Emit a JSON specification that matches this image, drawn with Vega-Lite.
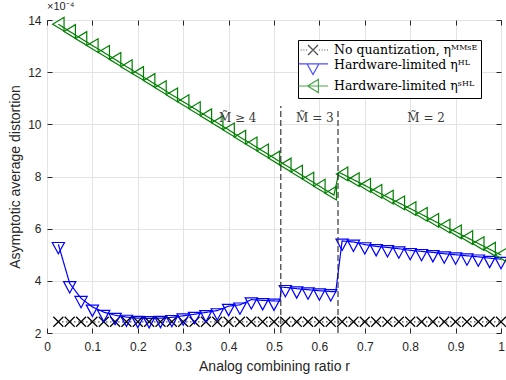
{
  "$schema": "https://vega.github.io/schema/vega-lite/v6.json",
  "width": 454,
  "height": 313,
  "autosize": {"type": "none"},
  "padding": {"left": 47, "top": 20, "right": 5, "bottom": 47},
  "background": "white",
  "config": {
    "view": {"stroke": "#262626", "strokeWidth": 1},
    "axis": {
      "labelFont": "Liberation Sans",
      "labelFontSize": 12,
      "labelColor": "#262626",
      "titleFont": "Liberation Sans",
      "titleFontSize": 14,
      "titleFontWeight": "normal",
      "titleColor": "#262626",
      "tickColor": "#262626",
      "tickSize": -5,
      "tickWidth": 1,
      "domain": false,
      "gridColor": "#e3e3e3",
      "gridWidth": 1,
      "labelFlush": false,
      "labelOverlap": false
    }
  },
  "title": {
    "text": "×10⁻⁴",
    "anchor": "start",
    "frame": "group",
    "font": "Liberation Sans",
    "fontSize": 11,
    "fontWeight": "normal",
    "color": "#262626",
    "offset": 2
  },
  "datasets": {
    "curves": [
      {"s": "a", "r": 0.025, "v": 2.43, "m": 1}, {"s": "a", "r": 0.05, "v": 2.43, "m": 1}, {"s": "a", "r": 0.075, "v": 2.43, "m": 1}, {"s": "a", "r": 0.1, "v": 2.43, "m": 1},
      {"s": "a", "r": 0.125, "v": 2.43, "m": 1}, {"s": "a", "r": 0.15, "v": 2.43, "m": 1}, {"s": "a", "r": 0.175, "v": 2.43, "m": 1}, {"s": "a", "r": 0.2, "v": 2.43, "m": 1},
      {"s": "a", "r": 0.225, "v": 2.43, "m": 1}, {"s": "a", "r": 0.25, "v": 2.43, "m": 1}, {"s": "a", "r": 0.275, "v": 2.43, "m": 1}, {"s": "a", "r": 0.3, "v": 2.43, "m": 1},
      {"s": "a", "r": 0.325, "v": 2.43, "m": 1}, {"s": "a", "r": 0.35, "v": 2.43, "m": 1}, {"s": "a", "r": 0.375, "v": 2.43, "m": 1}, {"s": "a", "r": 0.4, "v": 2.43, "m": 1},
      {"s": "a", "r": 0.425, "v": 2.43, "m": 1}, {"s": "a", "r": 0.45, "v": 2.43, "m": 1}, {"s": "a", "r": 0.475, "v": 2.43, "m": 1}, {"s": "a", "r": 0.5, "v": 2.43, "m": 1},
      {"s": "a", "r": 0.525, "v": 2.43, "m": 1}, {"s": "a", "r": 0.55, "v": 2.43, "m": 1}, {"s": "a", "r": 0.575, "v": 2.43, "m": 1}, {"s": "a", "r": 0.6, "v": 2.43, "m": 1},
      {"s": "a", "r": 0.625, "v": 2.43, "m": 1}, {"s": "a", "r": 0.65, "v": 2.43, "m": 1}, {"s": "a", "r": 0.675, "v": 2.43, "m": 1}, {"s": "a", "r": 0.7, "v": 2.43, "m": 1},
      {"s": "a", "r": 0.725, "v": 2.43, "m": 1}, {"s": "a", "r": 0.75, "v": 2.43, "m": 1}, {"s": "a", "r": 0.775, "v": 2.43, "m": 1}, {"s": "a", "r": 0.8, "v": 2.43, "m": 1},
      {"s": "a", "r": 0.825, "v": 2.43, "m": 1}, {"s": "a", "r": 0.85, "v": 2.43, "m": 1}, {"s": "a", "r": 0.875, "v": 2.43, "m": 1}, {"s": "a", "r": 0.9, "v": 2.43, "m": 1},
      {"s": "a", "r": 0.925, "v": 2.43, "m": 1}, {"s": "a", "r": 0.95, "v": 2.43, "m": 1}, {"s": "a", "r": 0.975, "v": 2.43, "m": 1}, {"s": "a", "r": 1.0, "v": 2.43, "m": 1},

      {"s": "b", "r": 0.025, "v": 5.40, "m": 1}, {"s": "b", "r": 0.05, "v": 3.90, "m": 1}, {"s": "b", "r": 0.075, "v": 3.33, "m": 1}, {"s": "b", "r": 0.1, "v": 3.00, "m": 1},
      {"s": "b", "r": 0.125, "v": 2.80, "m": 1}, {"s": "b", "r": 0.15, "v": 2.68, "m": 1}, {"s": "b", "r": 0.175, "v": 2.61, "m": 1}, {"s": "b", "r": 0.2, "v": 2.57, "m": 1},
      {"s": "b", "r": 0.225, "v": 2.56, "m": 1}, {"s": "b", "r": 0.25, "v": 2.57, "m": 1}, {"s": "b", "r": 0.275, "v": 2.60, "m": 1}, {"s": "b", "r": 0.3, "v": 2.66, "m": 1},
      {"s": "b", "r": 0.325, "v": 2.72, "m": 1}, {"s": "b", "r": 0.35, "v": 2.79, "m": 1}, {"s": "b", "r": 0.375, "v": 2.86, "m": 1}, {"s": "b", "r": 0.4, "v": 3.03, "m": 1},
      {"s": "b", "r": 0.425, "v": 3.08, "m": 1}, {"s": "b", "r": 0.45, "v": 3.28, "m": 1}, {"s": "b", "r": 0.475, "v": 3.25, "m": 1}, {"s": "b", "r": 0.5, "v": 3.23, "m": 1},
      {"s": "b", "r": 0.513, "v": 3.22, "m": 0}, {"s": "b", "r": 0.516, "v": 3.76, "m": 0},
      {"s": "b", "r": 0.525, "v": 3.75, "m": 1}, {"s": "b", "r": 0.55, "v": 3.70, "m": 1}, {"s": "b", "r": 0.575, "v": 3.66, "m": 1}, {"s": "b", "r": 0.6, "v": 3.62, "m": 1},
      {"s": "b", "r": 0.625, "v": 3.59, "m": 1}, {"s": "b", "r": 0.636, "v": 3.58, "m": 0},
      {"s": "b", "r": 0.65, "v": 5.53, "m": 1}, {"s": "b", "r": 0.675, "v": 5.49, "m": 1}, {"s": "b", "r": 0.7, "v": 5.39, "m": 1}, {"s": "b", "r": 0.725, "v": 5.32, "m": 1},
      {"s": "b", "r": 0.75, "v": 5.28, "m": 1}, {"s": "b", "r": 0.775, "v": 5.23, "m": 1}, {"s": "b", "r": 0.8, "v": 5.17, "m": 1}, {"s": "b", "r": 0.825, "v": 5.13, "m": 1},
      {"s": "b", "r": 0.85, "v": 5.09, "m": 1}, {"s": "b", "r": 0.875, "v": 5.04, "m": 1}, {"s": "b", "r": 0.9, "v": 5.00, "m": 1}, {"s": "b", "r": 0.925, "v": 4.96, "m": 1},
      {"s": "b", "r": 0.95, "v": 4.92, "m": 1}, {"s": "b", "r": 0.975, "v": 4.87, "m": 1}, {"s": "b", "r": 1.0, "v": 4.83, "m": 1},

      {"s": "c", "r": 0.025, "v": 13.84, "m": 1}, {"s": "c", "r": 0.05, "v": 13.56, "m": 1}, {"s": "c", "r": 0.075, "v": 13.29, "m": 1}, {"s": "c", "r": 0.1, "v": 13.02, "m": 1},
      {"s": "c", "r": 0.125, "v": 12.76, "m": 1}, {"s": "c", "r": 0.15, "v": 12.49, "m": 1}, {"s": "c", "r": 0.175, "v": 12.21, "m": 1}, {"s": "c", "r": 0.2, "v": 11.95, "m": 1},
      {"s": "c", "r": 0.225, "v": 11.68, "m": 1}, {"s": "c", "r": 0.25, "v": 11.41, "m": 1}, {"s": "c", "r": 0.275, "v": 11.13, "m": 1}, {"s": "c", "r": 0.3, "v": 10.87, "m": 1},
      {"s": "c", "r": 0.325, "v": 10.60, "m": 1}, {"s": "c", "r": 0.35, "v": 10.33, "m": 1}, {"s": "c", "r": 0.375, "v": 10.06, "m": 1}, {"s": "c", "r": 0.4, "v": 9.79, "m": 1},
      {"s": "c", "r": 0.425, "v": 9.51, "m": 1}, {"s": "c", "r": 0.45, "v": 9.25, "m": 1}, {"s": "c", "r": 0.475, "v": 8.98, "m": 1}, {"s": "c", "r": 0.5, "v": 8.71, "m": 1},
      {"s": "c", "r": 0.525, "v": 8.44, "m": 1}, {"s": "c", "r": 0.55, "v": 8.17, "m": 1}, {"s": "c", "r": 0.575, "v": 7.90, "m": 1}, {"s": "c", "r": 0.6, "v": 7.63, "m": 1},
      {"s": "c", "r": 0.625, "v": 7.36, "m": 1}, {"s": "c", "r": 0.632, "v": 7.29, "m": 0}, {"s": "c", "r": 0.643, "v": 8.16, "m": 0},
      {"s": "c", "r": 0.65, "v": 8.10, "m": 1}, {"s": "c", "r": 0.675, "v": 7.88, "m": 1}, {"s": "c", "r": 0.7, "v": 7.66, "m": 1}, {"s": "c", "r": 0.725, "v": 7.43, "m": 1},
      {"s": "c", "r": 0.75, "v": 7.21, "m": 1}, {"s": "c", "r": 0.775, "v": 6.99, "m": 1}, {"s": "c", "r": 0.8, "v": 6.77, "m": 1}, {"s": "c", "r": 0.825, "v": 6.55, "m": 1},
      {"s": "c", "r": 0.85, "v": 6.32, "m": 1}, {"s": "c", "r": 0.875, "v": 6.10, "m": 1}, {"s": "c", "r": 0.9, "v": 5.88, "m": 1}, {"s": "c", "r": 0.925, "v": 5.66, "m": 1},
      {"s": "c", "r": 0.95, "v": 5.43, "m": 1}, {"s": "c", "r": 0.975, "v": 5.21, "m": 1}, {"s": "c", "r": 1.0, "v": 4.99, "m": 1}
    ],
    "bounds": [
      {"r": 0.515, "lo": 2, "hi": 10.7},
      {"r": 0.641, "lo": 2, "hi": 10.6}
    ],
    "notes": [
      {"r": 0.42, "v": 10.25, "t": "M̃ ≥ 4"},
      {"r": 0.59, "v": 10.25, "t": "M̃ = 3"},
      {"r": 0.835, "v": 10.25, "t": "M̃ = 2"}
    ],
    "keys": [
      {"k": "a"}, {"k": "b"}, {"k": "c"}
    ]
  },
  "resolve": {"axis": {"x": "independent", "y": "independent"}},
  "layer": [
    {
      "data": {"name": "curves"},
      "mark": {"type": "line", "strokeWidth": 1.2},
      "encoding": {
        "x": {
          "field": "r", "type": "quantitative",
          "scale": {"domain": [0, 1], "nice": false, "zero": false},
          "axis": {
            "orient": "bottom",
            "values": [0, 0.1, 0.2, 0.3, 0.4, 0.5, 0.6, 0.7, 0.8, 0.9, 1],
            "format": "~g",
            "grid": true,
            "labelPadding": 13,
            "title": "Analog combining ratio r",
            "titlePadding": 7
          }
        },
        "y": {
          "field": "v", "type": "quantitative",
          "scale": {"domain": [2, 14], "nice": false, "zero": false},
          "axis": {
            "orient": "left",
            "values": [2, 4, 6, 8, 10, 12, 14],
            "format": "d",
            "grid": true,
            "labelPadding": 11,
            "title": "Asymptotic average distortion",
            "titlePadding": 5
          }
        },
        "color": {
          "field": "s", "type": "nominal",
          "scale": {"domain": ["a", "b", "c"], "range": ["#000000", "#0000ff", "#008000"]},
          "legend": null
        },
        "strokeDash": {
          "field": "s", "type": "nominal",
          "scale": {"domain": ["a", "b", "c"], "range": [[1, 3], [1, 0], [1, 0]]},
          "legend": null
        }
      }
    },
    {
      "data": {"name": "curves"},
      "transform": [{"filter": "datum.s === 'a' && datum.m === 1"}],
      "mark": {"type": "point", "shape": "M-1,-1L1,1M-1,1L1,-1", "size": 100, "filled": false, "stroke": "#000000", "strokeWidth": 1.2, "opacity": 1},
      "encoding": {
        "x": {"field": "r", "type": "quantitative", "axis": null},
        "y": {"field": "v", "type": "quantitative", "axis": null}
      }
    },
    {
      "data": {"name": "curves"},
      "transform": [{"filter": "datum.s === 'b' && datum.m === 1"}],
      "mark": {"type": "point", "shape": "M-1,-0.3L1,-0.3L0,1.55Z", "size": 150, "filled": false, "stroke": "#0000ff", "strokeWidth": 1.2, "opacity": 1},
      "encoding": {
        "x": {"field": "r", "type": "quantitative", "axis": null},
        "y": {"field": "v", "type": "quantitative", "axis": null}
      }
    },
    {
      "data": {"name": "curves"},
      "transform": [{"filter": "datum.s === 'c' && datum.m === 1"}],
      "mark": {"type": "point", "shape": "M-1,0L1,-1.2L1,1.2Z", "size": 130, "filled": false, "stroke": "#008000", "strokeWidth": 1.2, "opacity": 1},
      "encoding": {
        "x": {"field": "r", "type": "quantitative", "axis": null},
        "y": {"field": "v", "type": "quantitative", "axis": null}
      }
    },
    {
      "data": {"name": "bounds"},
      "mark": {"type": "rule", "stroke": "#262626", "strokeWidth": 1.1, "strokeDash": [6, 3]},
      "encoding": {
        "x": {"field": "r", "type": "quantitative", "axis": null},
        "y": {"field": "lo", "type": "quantitative", "axis": null},
        "y2": {"field": "hi"}
      }
    },
    {
      "data": {"name": "notes"},
      "mark": {"type": "text", "font": "DejaVu Serif", "fontSize": 12, "color": "#3a3a3a", "align": "center", "baseline": "middle"},
      "encoding": {
        "x": {
          "field": "r", "type": "quantitative",
          "axis": {"orient": "top", "values": [0, 0.1, 0.2, 0.3, 0.4, 0.5, 0.6, 0.7, 0.8, 0.9, 1], "labels": false, "title": null, "grid": false}
        },
        "y": {
          "field": "v", "type": "quantitative",
          "axis": {"orient": "right", "values": [2, 4, 6, 8, 10, 12, 14], "labels": false, "title": null, "grid": false}
        },
        "text": {"field": "t"}
      }
    },
    {
      "data": {"name": "keys"},
      "mark": {"type": "point", "filled": false, "strokeWidth": 1.2, "clip": true},
      "encoding": {
        "x": {"datum": 0.5, "type": "quantitative", "axis": null},
        "y": {"datum": 40, "type": "quantitative", "axis": null},
        "stroke": {
          "field": "k", "type": "nominal",
          "scale": {"range": ["#000000", "#0000ff", "#008000"]}
        },
        "shape": {
          "field": "k", "type": "nominal",
          "scale": {
            "range": [
              "M-2.5,0h0.17M-2.05,0h0.17M-1.6,0h0.17M-1.15,0h0.17M0.98,0h0.17M1.43,0h0.17M1.88,0h0.17M2.33,0h0.17M-0.83,-0.83L0.83,0.83M-0.83,0.83L0.83,-0.83",
              "M-2.5,-0.2L2.5,-0.2M-1,-0.2L0,1.6L1,-0.2",
              "M-2.5,0L2.5,0M-0.9,0L0.9,-1.1L0.9,1.1Z"
            ]
          },
          "legend": {
            "orient": "top-right",
            "offset": 20,
            "title": null,
            "padding": 3,
            "strokeColor": "#000000",
            "fillColor": "#ffffff",
            "cornerRadius": 0,
            "labelFont": "DejaVu Serif",
            "labelFontSize": 12.5,
            "labelColor": "#000000",
            "labelExpr": "datum.value === 'a' ? 'No quantization, ηᴹᴹˢᴱ' : datum.value === 'b' ? 'Hardware-limited ηᴴᴸ' : 'Hardware-limited ηˢᴴᴸ'",
            "symbolSize": 144,
            "symbolStrokeWidth": 1.2,
            "symbolOffset": 5,
            "labelOffset": 14,
            "rowPadding": 0
          }
        }
      }
    }
  ]
}
